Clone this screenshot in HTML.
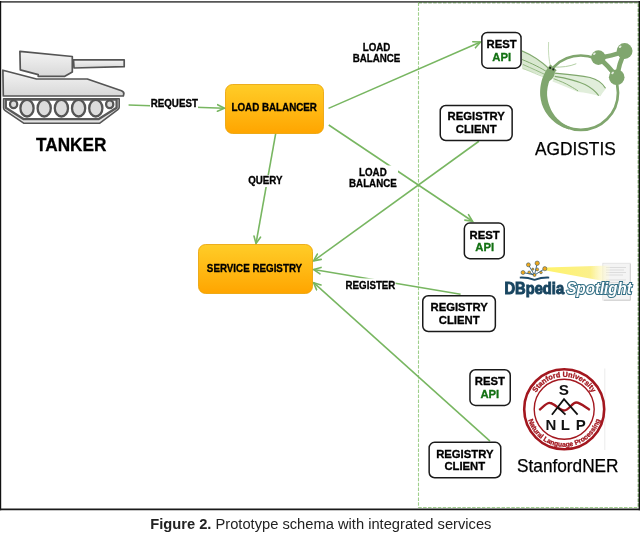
<!DOCTYPE html>
<html><head><meta charset="utf-8">
<style>
html,body{margin:0;padding:0;background:#fff;width:640px;height:533px;overflow:hidden}
svg{position:absolute;left:0;top:0;display:block;will-change:transform}
text{font-family:"Liberation Sans",sans-serif}
.lbl{font-weight:bold;font-size:10px;fill:#000;stroke:#000;stroke-width:0.3;text-anchor:middle}
.obx{font-size:10.4px}
.box{font-weight:bold;font-size:11.3px;fill:#000;stroke:#000;stroke-width:0.3;text-anchor:middle}
.ln{stroke:#78b661;stroke-width:1.55;fill:none}
.wb{fill:#fff;stroke:#1a1a1a;stroke-width:1.5}
</style></head>
<body>
<svg width="640" height="533" viewBox="0 0 640 533">
<defs>
  <linearGradient id="og" x1="0" y1="0" x2="0" y2="1">
    <stop offset="0" stop-color="#ffcd28"/>
    <stop offset="1" stop-color="#ffa500"/>
  </linearGradient>
  <linearGradient id="tg" x1="0" y1="0" x2="0" y2="1">
    <stop offset="0" stop-color="#f4f4f4"/>
    <stop offset="1" stop-color="#d8d8d8"/>
  </linearGradient>
  <marker id="ar" markerUnits="userSpaceOnUse" markerWidth="12" markerHeight="12" refX="8" refY="4.5" orient="auto">
    <path d="M1,1.2 L8,4.5 L1,7.8" fill="none" stroke="#78b661" stroke-width="1.6" stroke-linecap="round"/>
  </marker>
</defs>

<!-- outer frame -->
<path d="M0,1.9 H640" stroke="#565656" stroke-width="1.8" fill="none"/>
<path d="M0.6,1 V510.2" stroke="#111" stroke-width="1.2" fill="none"/>
<path d="M639.3,1 V510.2" stroke="#111" stroke-width="1.4" fill="none"/>
<path d="M0,509.4 H640" stroke="#1a1a1a" stroke-width="1.6" fill="none"/>
<!-- dashed region -->
<path d="M418.5,2.5 V507.5 H638.5" fill="none" stroke="#9fcf8c" stroke-width="1.1" stroke-dasharray="3.5,1.4"/>
<path d="M418.5,2.8 H638.3 V507.5" fill="none" stroke="#4f7a3f" stroke-width="1.1" stroke-dasharray="3.5,1.4"/>

<!-- lines -->
<path class="ln" d="M128.6,105.1 L224.5,108.2" marker-end="url(#ar)"/>
<path class="ln" d="M275.7,133.5 L256,243.5" marker-end="url(#ar)"/>
<path class="ln" d="M328.5,108.4 L480.5,42" marker-end="url(#ar)"/>
<path class="ln" d="M328.75,125 L472.5,221.25" marker-end="url(#ar)"/>
<path class="ln" d="M478.9,141.25 L313.6,260.8" marker-end="url(#ar)"/>
<path class="ln" d="M460.6,294.2 L313.6,269.5" marker-end="url(#ar)"/>
<path class="ln" d="M490,441.1 L313.6,282.7" marker-end="url(#ar)"/>

<!-- label backgrounds -->
<rect x="150" y="98" width="48" height="12" fill="#fff"/>
<rect x="247" y="175" width="37" height="12" fill="#fff"/>
<rect x="348" y="165.5" width="50" height="22.5" fill="#fff"/>
<rect x="345" y="278.5" width="50.5" height="12" fill="#fff"/>

<text class="lbl" x="174.3" y="107" textLength="47.13" lengthAdjust="spacingAndGlyphs">REQUEST</text>
<text class="lbl" x="265.3" y="183.7" textLength="34.31" lengthAdjust="spacingAndGlyphs">QUERY</text>
<text class="lbl" x="376.5" y="50.9" textLength="27.62" lengthAdjust="spacingAndGlyphs">LOAD</text>
<text class="lbl" x="376.5" y="62.1" textLength="47.67" lengthAdjust="spacingAndGlyphs">BALANCE</text>
<text class="lbl" x="372.9" y="175.5" textLength="27.62" lengthAdjust="spacingAndGlyphs">LOAD</text>
<text class="lbl" x="372.9" y="186.5" textLength="47.67" lengthAdjust="spacingAndGlyphs">BALANCE</text>
<text class="lbl" x="370.5" y="289" textLength="49.84" lengthAdjust="spacingAndGlyphs">REGISTER</text>

<!-- orange boxes -->
<rect x="225.5" y="84.5" width="98" height="49" rx="7" fill="url(#og)" stroke="#e8a000" stroke-width="0.8"/>
<text class="lbl obx" x="274.2" y="111.1" textLength="85.47" lengthAdjust="spacingAndGlyphs">LOAD BALANCER</text>
<rect x="198.5" y="244.5" width="114" height="49" rx="7" fill="url(#og)" stroke="#e8a000" stroke-width="0.8"/>
<text class="lbl obx" x="254.5" y="271.9" textLength="95.30" lengthAdjust="spacingAndGlyphs">SERVICE REGISTRY</text>

<!-- white boxes -->
<rect class="wb" x="481.85" y="32.45" width="39.20" height="35.70" rx="5.5"/>
<text class="box" x="501.65" y="47.8">REST</text>
<text class="box" x="501.65" y="60.6" style="fill:#127012;stroke:#127012">API</text>

<rect class="wb" x="440.25" y="105.50" width="71.90" height="35.00" rx="5.5"/>
<text class="box" x="476.2" y="120.0">REGISTRY</text>
<text class="box" x="476.2" y="133.1">CLIENT</text>

<rect class="wb" x="464.35" y="223.05" width="39.90" height="35.60" rx="5.5"/>
<text class="box" x="484.65" y="238.7">REST</text>
<text class="box" x="484.65" y="251.2" style="fill:#127012;stroke:#127012">API</text>

<rect class="wb" x="422.75" y="295.75" width="72.60" height="35.75" rx="5.5"/>
<text class="box" x="459.15" y="311.0">REGISTRY</text>
<text class="box" x="459.15" y="324.0">CLIENT</text>

<rect class="wb" x="469.95" y="369.75" width="40.30" height="35.70" rx="5.5"/>
<text class="box" x="489.85" y="385.1">REST</text>
<text class="box" x="489.85" y="397.6" style="fill:#127012;stroke:#127012">API</text>

<rect class="wb" x="429.15" y="442.35" width="71.60" height="35.40" rx="5.5"/>
<text class="box" x="464.8" y="457.5">REGISTRY</text>
<text class="box" x="464.8" y="470.4">CLIENT</text>

<!-- tank -->
<g stroke="#555" stroke-width="1.7" stroke-linejoin="round" fill="url(#tg)">
  <path d="M73.5,59.8 L124.2,59.8 L124.2,66.7 L74,68 Z"/>
  <path d="M19.9,51.3 L72.3,56.5 L72.3,71.9 L64.8,76.3 L38.2,76.3 L38.2,74.6 L20.3,69.9 Z"/>
  <path d="M2.9,70.2 L36.5,79 L87.3,79 L121.5,90.8 Q124.6,92.3 123.7,94.5 L123.3,96 L3.3,96 Z"/>
  <path d="M3.6,98.8 L119.2,98.8 L119.2,107.3 Q119.2,108.6 117.8,109.6 L99.5,123.3 L24,123.3 L5.2,110.6 Q3.6,109.5 3.6,108 Z" fill="#e4e4e4" stroke-width="1.6"/>
  <path d="M5.8,99.6 L116.6,99.6 L116.6,107.8 L98.4,119.2 L23.8,119.2 L5.8,107.8 Z" fill="#fff" stroke-width="2.3" stroke="#585858"/>
  <g fill="#dcdcdc" stroke-width="2.3">
    <ellipse cx="13.6" cy="104.3" rx="3.6" ry="3.9"/>
    <ellipse cx="27" cy="108.2" rx="6.6" ry="8.3"/>
    <ellipse cx="44.2" cy="108.2" rx="6.6" ry="8.3"/>
    <ellipse cx="61.4" cy="108.2" rx="6.6" ry="8.3"/>
    <ellipse cx="78.6" cy="108.2" rx="6.6" ry="8.3"/>
    <ellipse cx="95.8" cy="108.2" rx="6.6" ry="8.3"/>
    <ellipse cx="109.7" cy="104.3" rx="3.6" ry="3.9"/>
  </g>
</g>

<!-- AGDISTIS logo -->
<g>
  <!-- left wings -->
  <path d="M522,50 C532,54 541,61 551,68.5 L546,77 C538,74 530,71 522,69 Z" fill="#d5e6cb" opacity="0.9"/>
  <path d="M522,51 C533,55.5 542,62 549,68.8" fill="none" stroke="#7fa76c" stroke-width="1.1"/>
  <path d="M522,59.5 C532,63.5 541,68 547.5,72.2" fill="none" stroke="#7fa76c" stroke-width="1"/>
  <path d="M523,64.5 C532,68.5 540,72 546,75" fill="none" stroke="#8fb57d" stroke-width="0.9"/>
  <path d="M523,68.5 C532,72 538,75 543,76.5" fill="none" stroke="#b8d4aa" stroke-width="0.8"/>
  <!-- right wings -->
  <path d="M554,73 C565,74 578,75 590,77.5 C598,79.5 603,84 606,88.5 C603,92 601.5,94.5 600.5,96.3 C592,94 585,92.5 578,92 C568,88 560,84 552.5,81.5 Z" fill="#e1eedb"/>
  <path d="M554.7,73.1 C565,74 578,75 590,77.5 C598,79.5 603,84 605.5,88.3" fill="none" stroke="#7fa76c" stroke-width="1.2"/>
  <path d="M554.7,76.4 C565,78 576,80.5 585,84.5 C591,87.5 596,92 598.7,95.6" fill="none" stroke="#7fa76c" stroke-width="1.1"/>
  <path d="M553.7,78.7 C560,81 566,83.5 570,86 C573.5,88 576,89.5 578,90.9" fill="none" stroke="#8db37a" stroke-width="1"/>
  <path d="M553.7,67 C561,67.5 570,66.5 576.3,63.7" fill="none" stroke="#a9c99a" stroke-width="0.9"/>
  <!-- antenna -->
  <path d="M550.5,67 C549,60 548,52 548.6,42" fill="none" stroke="#b7d3a8" stroke-width="0.8"/>
  <!-- circle -->
  <circle cx="580.8" cy="92.7" r="37.2" fill="none" stroke="#80a66e" stroke-width="2.7"/>
  <!-- body -->
  <path d="M550.5,64.4 L549.1,66.1 L547.9,67.8 L546.7,69.5 L545.6,71.4 L544.6,73.2 L543.7,75.2 L542.9,77.1 L542.2,79.1 L541.6,81.1 L541.1,83.2 L540.7,85.2 L540.4,87.3 L540.2,89.4 L540.1,91.5 L540.1,93.6 L540.2,95.7 L540.5,97.7 L540.8,99.8 L541.3,101.8 L541.8,103.9 L542.5,105.8 L543.3,107.8 L544.2,109.6 L545.2,111.4 L546.4,113.2 L547.5,114.8 L548.8,116.5 L550.2,118.0 L551.6,119.5 L553.1,120.8 L554.7,122.2 L556.3,123.4 L557.9,124.5 L559.7,125.6 L561.4,126.5 L563.3,127.4 L565.1,128.1 L567.0,128.8 L568.9,129.4 L569.7,126.8 L568.0,126.1 L566.4,125.3 L564.8,124.4 L563.2,123.5 L561.7,122.4 L560.2,121.3 L558.9,120.1 L557.6,118.9 L556.3,117.6 L555.1,116.2 L554.1,114.8 L553.1,113.3 L552.1,111.8 L551.3,110.2 L550.5,108.6 L549.9,107.0 L549.3,105.4 L548.7,103.7 L548.2,102.0 L547.8,100.3 L547.5,98.6 L547.3,96.9 L547.1,95.2 L547.1,93.4 L547.1,91.7 L547.3,90.0 L547.5,88.2 L547.8,86.5 L548.2,84.9 L548.6,83.2 L549.2,81.6 L549.9,80.0 L550.6,78.4 L551.5,76.9 L552.4,75.5 L553.4,74.1 L554.4,72.7 L555.5,71.5 L556.7,70.2 Z" fill="#80a66e"/>
  <ellipse cx="549.6" cy="74.5" rx="4.6" ry="7" transform="rotate(28 549.6 74.5)" fill="#80a66e"/>
  <circle cx="550.2" cy="67.9" r="1.1" fill="#1e2a1e"/>
  <circle cx="553.3" cy="69.4" r="1.1" fill="#1e2a1e"/>
  <!-- molecule -->
  <g fill="#80a66e">
    <path d="M598.4,57.6 Q611.5,56.5 624.6,51 Q619,64 616.7,77.2 Q609,66 598.4,57.6 Z" fill="none" stroke="#80a66e" stroke-width="4.6" stroke-linejoin="round"/>
    <circle cx="598.4" cy="57.6" r="7.3"/>
    <circle cx="624.6" cy="51" r="7.9"/>
    <circle cx="616.7" cy="77.2" r="7.8"/>
    
    
    
  </g>
  <g fill="#fff" opacity="0.8">
    <ellipse cx="594.4" cy="53.8" rx="1.5" ry="1" transform="rotate(-40 594.4 53.8)"/>
    <ellipse cx="620.2" cy="46.8" rx="1.5" ry="1" transform="rotate(-40 620.2 46.8)"/>
    <ellipse cx="612.6" cy="72.9" rx="1.5" ry="1" transform="rotate(-40 612.6 72.9)"/>
  </g>
</g>

<!-- DBpedia Spotlight logo -->
<g>
  <!-- document -->
  <rect x="602.8" y="263.2" width="27.5" height="37" fill="#f4f4f4" stroke="#dcdcdc" stroke-width="0.7"/>
  <path d="M630.3,264 V300.2 H604" fill="none" stroke="#c8c8c8" stroke-width="0.8"/>
  <g stroke="#c4c4c4" stroke-width="0.5">
    <path d="M606,267.5 H626 M606,270 H624 M606,272.5 H626 M606,275 H623 M606,280 H626 M606,282.5 H625 M606,285 H622"/>
  </g>
  <!-- beam -->
  <defs>
    <linearGradient id="beam" x1="0" y1="0" x2="1" y2="0">
      <stop offset="0" stop-color="#fff36a"/>
      <stop offset="0.7" stop-color="#fbf08c"/>
      <stop offset="1" stop-color="#fffbe0" stop-opacity="0.3"/>
    </linearGradient>
  </defs>
  <path d="M546,267.5 L610,265.5 L609,282 L546,270.5 Z" fill="url(#beam)"/>
  <!-- tree dots -->
  <g stroke="#1d4a6a" stroke-width="0.8" fill="none">
    <path d="M534.5,275 L528.4,264.8 M534.5,275 L537.2,263.2 M534.5,275 L544.8,268.7 M534.5,275 L523,272.5 M529,272.5 L534.5,275"/>
  </g>
  <g fill="#f0a81c" stroke="#1d4a6a" stroke-width="0.5">
    <circle cx="528.4" cy="264.8" r="2"/>
    <circle cx="537.2" cy="263.2" r="2.2"/>
    <circle cx="544.8" cy="268.7" r="2.1"/>
    <circle cx="523" cy="272.5" r="2"/>
    <circle cx="529.2" cy="272.3" r="1.4"/>
    <circle cx="532.8" cy="269.2" r="1.1"/>
    <circle cx="537.2" cy="269.4" r="1.5"/>
    <circle cx="541" cy="272.5" r="1.3"/>
    <circle cx="534.5" cy="275" r="1.5"/>
  </g>
  <path d="M519.8,277.6 Q527,277.2 534.5,279.8 Q542,277.2 549.2,277.6" fill="none" stroke="#1d4a6a" stroke-width="1.9"/>
  <text x="504.5" y="293.7" transform="translate(504.5 0) scale(0.875 1) translate(-504.5 0)" style="font-weight:bold;font-size:16.8px;fill:#184560;stroke:#184560;stroke-width:1">DBpedia</text>
  <text x="566.5" y="293.8" transform="translate(566.5 0) scale(0.885 1) translate(-566.5 0)" style="font-weight:bold;font-style:italic;font-size:17px;fill:#fff;stroke:#336f85;stroke-width:2.2;paint-order:stroke">Spotlight</text>
</g>

<!-- Stanford NLP logo -->
<g>
  <defs>
    <path id="arcTop" d="M531.7,409.3 A32.5,32.5 0 0 1 596.7,409.3"/>
    <path id="arcBot" d="M526.7,409.3 A37.5,37.5 0 0 0 601.7,409.3"/>
  </defs>
  <path d="M604.8,368.5 V450" stroke="#e6e6e6" stroke-width="0.8"/>
  <circle cx="564.2" cy="409.3" r="40" fill="#fff" stroke="#a3171f" stroke-width="2.6"/>
  <circle cx="564.2" cy="409.3" r="30" fill="none" stroke="#a3171f" stroke-width="1.4"/>
  <text style="font-weight:bold;font-size:7.3px;fill:#a3171f;stroke:#a3171f;stroke-width:0.3"><textPath href="#arcTop" startOffset="50%" text-anchor="middle">Stanford University</textPath></text>
  <text style="font-weight:bold;font-size:6.8px;fill:#a3171f;stroke:#a3171f;stroke-width:0.3"><textPath href="#arcBot" startOffset="50%" text-anchor="middle">Natural Language Processing</textPath></text>
  <path d="M539.2,410 C544,406 547,402.5 550,403 C555,403.5 559,410.5 564,410.5 C569,410.5 572,402.5 576.3,402.5 C580,402.5 585,407 589.8,410" fill="none" stroke="#a3171f" stroke-width="2.3"/>
  <path d="M551.9,414.7 L564,399.2 L577.6,414.7 M557.5,407.2 L565.5,414.7" fill="none" stroke="#111" stroke-width="1.8"/>
  <text x="563.9" y="395.2" style="font-weight:bold;font-size:15.3px;fill:#111;text-anchor:middle">S</text>
  <text x="550.9" y="430.3" style="font-weight:bold;font-size:15px;fill:#111;text-anchor:middle">N</text>
  <text x="565.4" y="430.3" style="font-weight:bold;font-size:15px;fill:#111;text-anchor:middle">L</text>
  <text x="580.7" y="430.3" style="font-weight:bold;font-size:15px;fill:#111;text-anchor:middle">P</text>
</g>

<!-- TANKER text -->
<text x="71.2" y="150.8" textLength="70.4" lengthAdjust="spacingAndGlyphs" style="font-weight:bold;font-size:18.2px;fill:#000;stroke:#000;stroke-width:0.3;text-anchor:middle">TANKER</text>
<text x="575.4" y="154.8" textLength="80.9" lengthAdjust="spacingAndGlyphs" style="font-size:17.7px;fill:#000;stroke:#000;stroke-width:0.25;text-anchor:middle">AGDISTIS</text>
<text x="567.8" y="471.9" textLength="101.5" lengthAdjust="spacingAndGlyphs" style="font-size:17.7px;fill:#000;stroke:#000;stroke-width:0.25;text-anchor:middle">StanfordNER</text>

<!-- caption -->
<text x="150.2" y="529" style="font-size:14.7px;fill:#222"><tspan style="font-weight:bold">Figure 2.</tspan> Prototype schema with integrated services</text>
</svg>
</body></html>
